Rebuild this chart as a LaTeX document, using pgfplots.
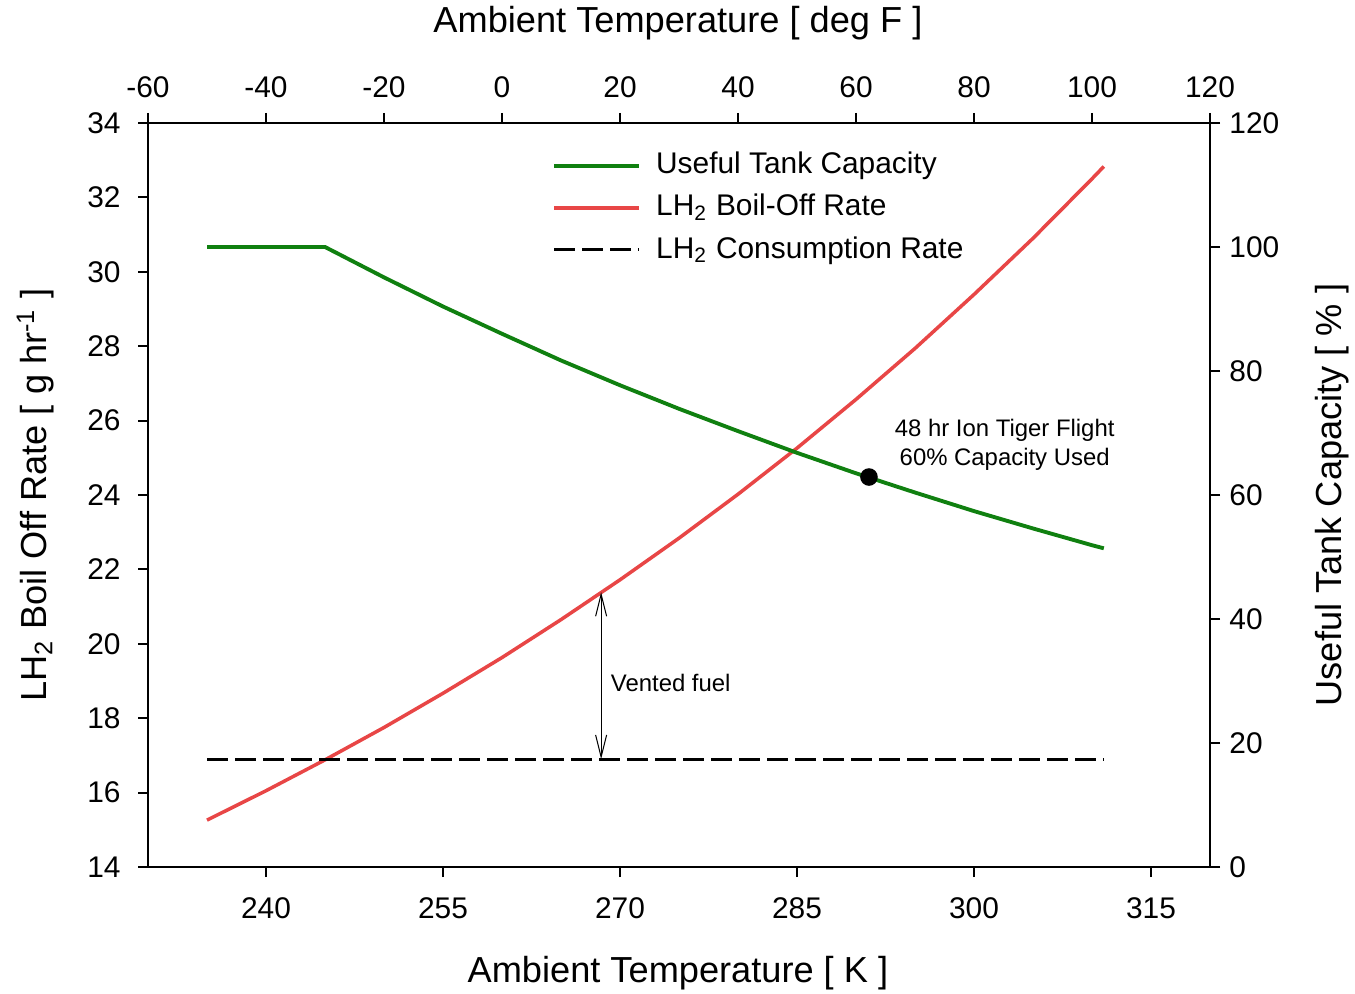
\documentclass[border=0pt]{standalone}
\usepackage{fontspec}
\setmainfont{Liberation Sans}
\usepackage{pgfplots}
\pgfplotsset{compat=1.18}
\usetikzlibrary{arrows.meta}
\definecolor{capgreen}{HTML}{108010}
\definecolor{boilred}{HTML}{E84646}

\pgfplotsset{
  base/.style={
    width=106.2mm, height=74.4mm, scale only axis,
    tick align=outside, major tick length=1mm,
    axis line style={line width=0.7pt},
    tick style={line width=0.6pt, black},
    every tick label/.append style={font=\fontsize{8.5}{10}\selectfont},
    /pgf/number format/assume math mode=true,
    label style={font=\fontsize{10.3}{12}\selectfont, inner sep=0pt},
  }
}

\begin{document}
\begin{tikzpicture}

% bottom / left axis: boil-off and consumption
\begin{axis}[base, name=main,
  xmin=230, xmax=320, ymin=14, ymax=34,
  xtick={240,255,...,315}, ytick={14,16,...,34},
  xtick pos=bottom, ytick pos=left,
  xticklabel style={yshift=-0.8mm},
  yticklabel style={xshift=-0.5mm},
  xlabel={Ambient Temperature [ K ]},
  ylabel={LH\textsubscript{2} Boil Off Rate [ g hr\textsuperscript{-1} ]},
  xlabel style={at={(axis description cs:0.499,-0.142)}, anchor=center},
  ylabel style={at={(axis description cs:-0.106,0.5)}, anchor=center},
  legend style={at={(axis description cs:0.38,0.971)}, anchor=north west,
    draw=none, fill=none, inner sep=0pt, row sep=0.3pt,
    font=\fontsize{8.5}{10}\selectfont},
  legend cell align=left,
  legend image code/.code={\draw[#1] (0mm,0mm) -- (8.5mm,0mm); \path (9.3mm,0mm);},
]
\addlegendimage{capgreen, line width=1.1pt}
\addlegendentry{Useful Tank Capacity}

\addplot[boilred, line width=1pt] coordinates {
  (235,15.26) (240,16.05) (245,16.88) (250,17.75) (255,18.67) (260,19.63)
  (265,20.65) (270,21.72) (275,22.84) (280,24.02) (285,25.26) (290,26.57)
  (295,27.94) (300,29.39) (305,30.90) (310,32.50) (311,32.83)
};
\addlegendentry{LH\textsubscript{2} Boil-Off Rate}

\addplot[black, line width=0.9pt, dash pattern=on 2.05mm off 0.75mm] coordinates {
  (235,16.9) (311,16.9)
};
\addlegendentry{LH\textsubscript{2} Consumption Rate}

\draw[line width=0.3pt,
  {Straight Barb[length=2.2mm,width=1.1mm]}-{Straight Barb[length=2.2mm,width=1.1mm]}]
  (axis cs:268.4,16.9) -- (axis cs:268.4,21.39);
\node[font=\fontsize{6.8}{8}\selectfont] at (axis cs:274.3,18.95) {Vented fuel};
\node[align=center, font=\fontsize{6.8}{8.5}\selectfont] at (axis cs:302.6,25.35)
  {48 hr Ion Tiger Flight\\60\% Capacity Used};
\end{axis}

% right axis: useful tank capacity
\begin{axis}[base,
  xmin=230, xmax=320, ymin=0, ymax=120,
  ytick={0,20,...,120},
  axis y line*=right, hide x axis,
  yticklabel style={xshift=-0.3mm},
  ylabel={Useful Tank Capacity [ \% ]},
  ylabel style={at={(axis description cs:1.115,0.5)}, anchor=center},
]
\addplot[capgreen, line width=1.1pt] coordinates {
  (235,100) (240,100) (245,100) (250,95.1) (255,90.4) (260,86.0)
  (265,81.7) (270,77.7) (275,73.9) (280,70.3) (285,66.8) (290,63.5)
  (295,60.4) (300,57.4) (305,54.6) (310,51.9) (311,51.4)
};
\addplot[only marks, mark=*, mark size=2.3pt, black] coordinates {(291.1,62.9)};
\end{axis}

% top axis: deg F
\begin{axis}[base,
  xmin=-60, xmax=120, ymin=0, ymax=1,
  xtick={-60,-40,...,120},
  axis x line*=top, hide y axis,
  xticklabel style={yshift=0.3mm},
  xlabel={Ambient Temperature [ deg F ]},
  xlabel style={at={(axis description cs:0.499,1.134)}, anchor=center},
]
\end{axis}

\pgfresetboundingbox
\path[use as bounding box]
  ([xshift=-14.8mm,yshift=-12.7mm]main.south west)
  rectangle ([xshift=14.5mm,yshift=12.3mm]main.north east);
\end{tikzpicture}
\end{document}
